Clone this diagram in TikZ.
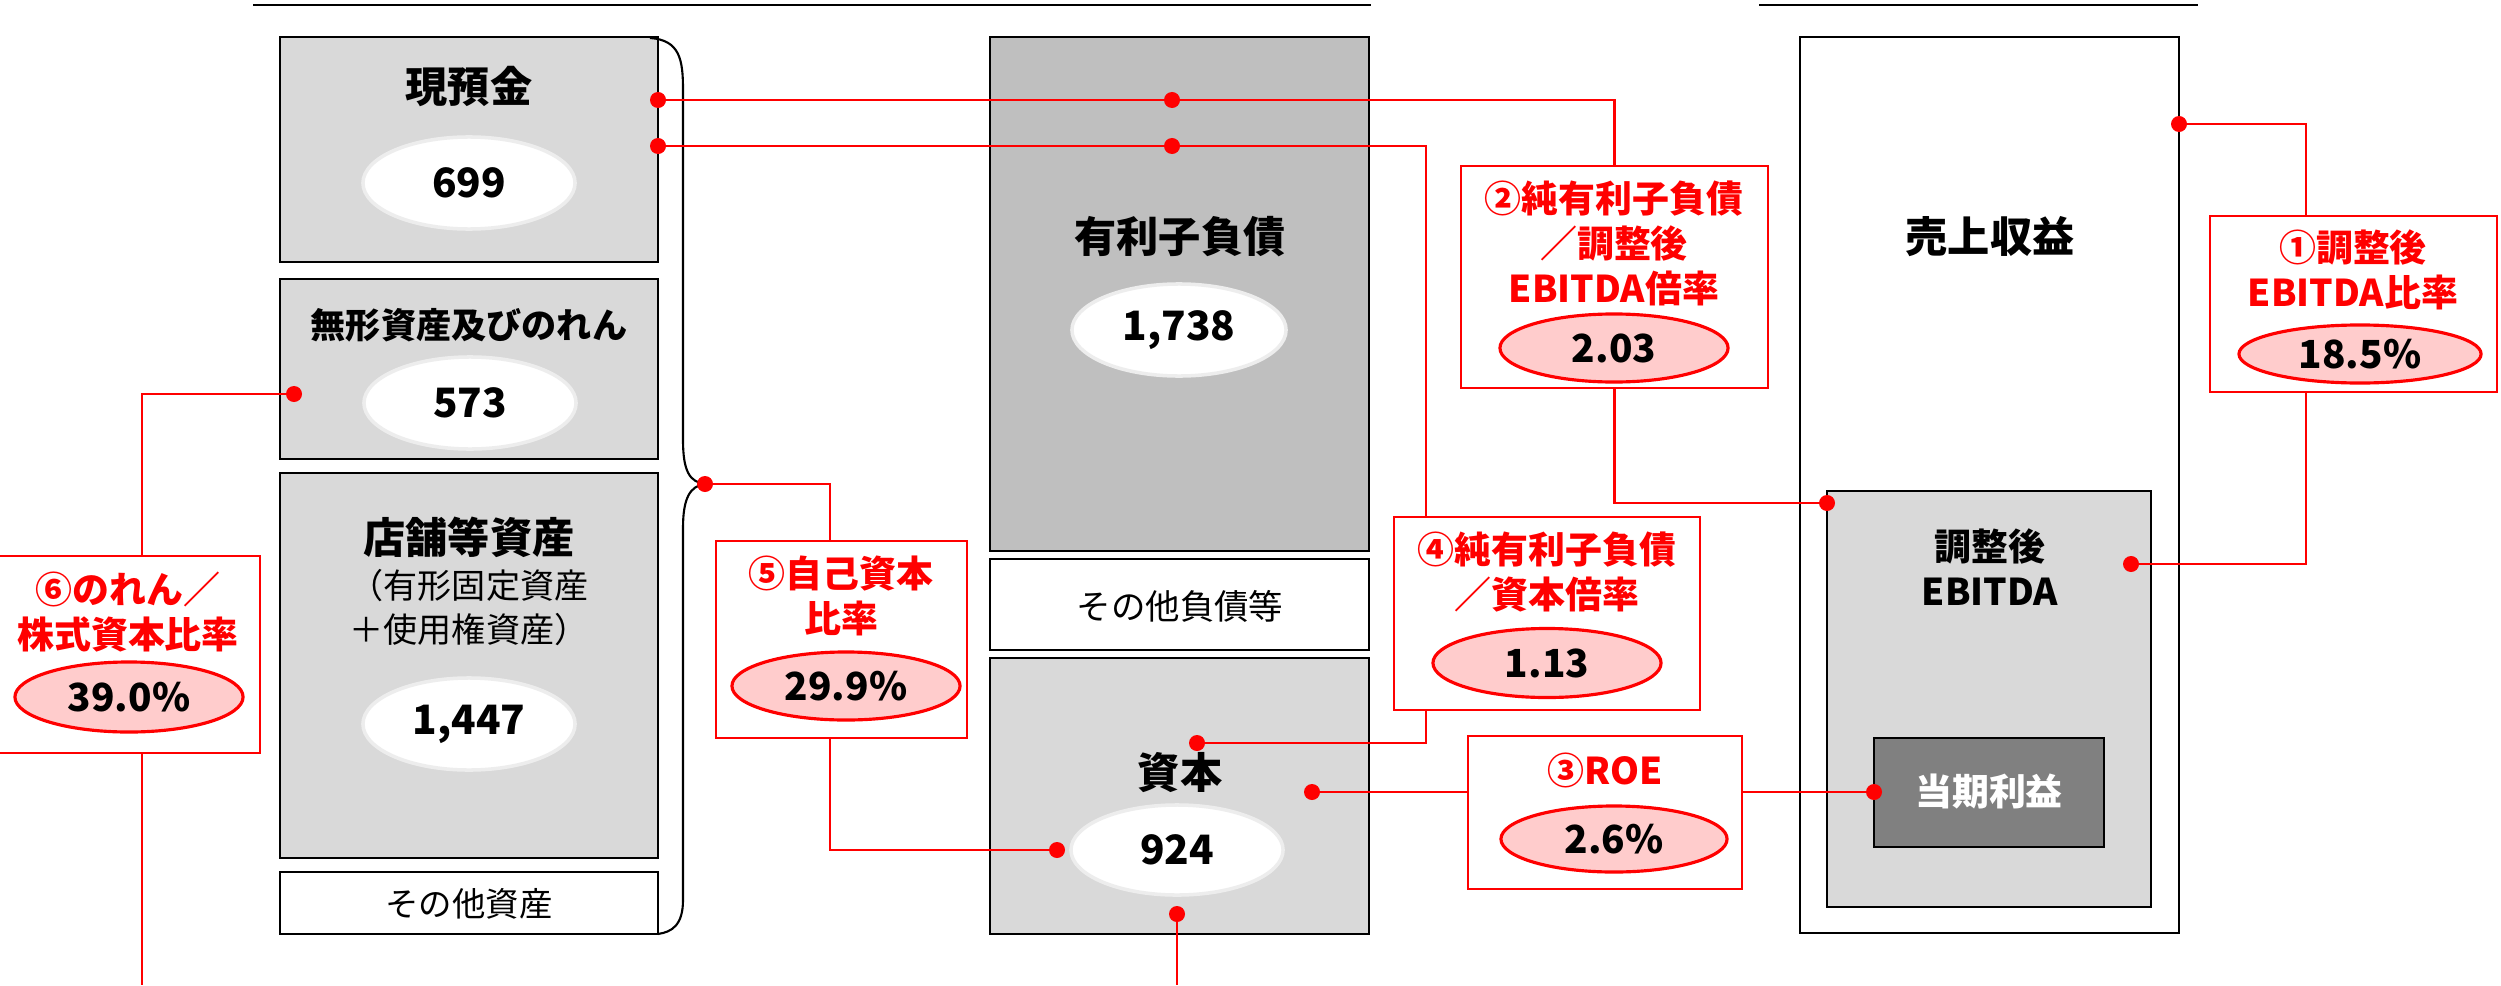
\documentclass[tikz,border=0pt]{standalone}
\usepackage{fontspec}
\setmainfont{Noto Sans CJK JP}
\usetikzlibrary{shapes.geometric,fit}
\definecolor{lg}{HTML}{D9D9D9}
\definecolor{mg}{HTML}{BFBFBF}
\definecolor{dg}{HTML}{808080}
\definecolor{pk}{HTML}{FFCCCC}
\definecolor{rr}{HTML}{FF0000}
\begin{document}
\begin{tikzpicture}[x=0.01cm,y=-0.01cm,
  gbox/.style={draw=black,line width=0.8pt,fill=lg,inner sep=0pt},
  wbox/.style={draw=black,line width=0.8pt,fill=white,inner sep=0pt},
  rbox/.style={draw=rr,line width=0.8pt,fill=white,inner sep=0pt},
  wov/.style={ellipse,fill=white,draw=black!7,line width=1pt,inner sep=0pt,font=\bfseries\fontsize{11.5}{13}\selectfont},
  rov/.style={ellipse,fill=pk,draw=rr,line width=0.9pt,inner sep=0pt,font=\bfseries\fontsize{11}{12}\selectfont},
  rdot/.style={circle,fill=rr,inner sep=0pt,minimum size=0.16cm},
  rl/.style={draw=rr,line width=0.7pt},
  big/.style={font=\bfseries\fontsize{12}{14}\selectfont},
  mid/.style={font=\bfseries\fontsize{10.5}{12.8}\selectfont,align=center},
  reg/.style={font=\fontsize{9.7}{12.5}\selectfont,align=center},
  lab/.style={font=\bfseries\fontsize{10.5}{12.8}\selectfont,align=center,text=rr}]
\useasboundingbox (0,0) rectangle (2501,985);
% top rules
\draw[line width=0.5pt] (253,5) -- (1371,5);
\draw[line width=0.5pt] (1759,5) -- (2198,5);
% assets
\node[gbox,fit={(280,37)(658,262)}] (cash) {};
\node[big] (tcash) at (469,87) {現預金};
\node[wov,minimum width=2.12cm,minimum height=0.92cm] (vcash) at (469,183) {699};
\node[gbox,fit={(280,279)(658,459)}] (intg) {};
\node[font=\bfseries\fontsize{10}{12}\selectfont] (tintg) at (469,325) {無形資産及びのれん};
\node[wov,minimum width=2.12cm,minimum height=0.92cm] (vintg) at (470,403) {573};
\node[gbox,fit={(280,473)(658,858)}] (store) {};
\node[big] (tstore) at (469,537) {店舗等資産};
\node[reg] (tstore2) at (469,608) {（有形固定資産\\＋使用権資産）};
\node[wov,minimum width=2.12cm,minimum height=0.92cm] (vstore) at (469,724) {1,447};
\node[wbox,fit={(280,872)(658,934)}] (oth) {};
\node[font=\fontsize{9.5}{12}\selectfont] (toth) at (469,904) {その他資産};
% brace
\draw[line width=0.6pt] (650,38) .. controls (680,40) and (683,60) .. (683,90) -- (683,440) .. controls (683,472) and (690,482) .. (705,484) .. controls (690,486) and (683,498) .. (683,528) -- (683,900) .. controls (683,925) and (672,932) .. (658,934);
% liabilities
\node[fill=mg,draw=black,line width=0.8pt,inner sep=0pt,fit={(990,37)(1369,551)}] (debt) {};
\node[big] (tdebt) at (1180,237) {有利子負債};
\node[wov,minimum width=2.14cm,minimum height=0.92cm] (vdebt) at (1179,330) {1,738};
\node[wbox,fit={(990,559)(1369,650)}] (othl) {};
\node[font=\fontsize{9.8}{12}\selectfont] (tothl) at (1180,606) {その他負債等};
\node[gbox,fit={(990,658)(1369,934)}] (eq) {};
\node[big] (teq) at (1180,773) {資本};
\node[wov,minimum width=2.12cm,minimum height=0.9cm] (veq) at (1177,850) {924};
% P/L
\node[wbox,fit={(1800,37)(2179,933)}] (rev) {};
\node[big] (trev) at (1990,237) {売上収益};
\node[gbox,fit={(1827,491)(2151,907)}] (ebitda) {};
\node[mid] (tebitda) at (1990,567) {調整後\\EBITDA};
\node[fill=dg,draw=black,line width=0.8pt,inner sep=0pt,fit={(1874,738)(2104,847)}] (ni) {};
\node[font=\bfseries\fontsize{10.5}{12}\selectfont,text=white] (tni) at (1989,792) {当期利益};
% ratio boxes
\node[rbox,fit={(2210,216)(2497,392)}] (r1) {};
\node[lab] (t1) at (2353,270) {①調整後\\EBITDA比率};
\node[rov,minimum width=2.42cm,minimum height=0.58cm] (v1) at (2360,354) {18.5\%};
\node[rbox,fit={(1461,166)(1768,388)}] (r2) {};
\node[lab] (t2) at (1614,243) {②純有利子負債\\／調整後\\EBITDA倍率};
\node[rov,minimum width=2.28cm,minimum height=0.68cm] (v2) at (1614,348) {2.03};
\node[rbox,fit={(1468,736)(1742,889)}] (r3) {};
\node[lab] (t3) at (1605,770) {③ROE};
\node[rov,minimum width=2.26cm,minimum height=0.66cm] (v3) at (1614,839) {2.6\%};
\node[rbox,fit={(1394,517)(1700,710)}] (r4) {};
\node[lab] (t4) at (1547,572) {④純有利子負債\\／資本倍率};
\node[rov,minimum width=2.28cm,minimum height=0.69cm] (v4) at (1547,663) {1.13};
\node[rbox,fit={(716,541)(967,738)}] (r5) {};
\node[lab] (t5) at (841,596) {⑤自己資本\\比率};
\node[rov,minimum width=2.28cm,minimum height=0.68cm] (v5) at (846,686) {29.9\%};
\node[rbox,fit={(-3,556)(260,753)}] (r6) {};
\node[lab] (t6) at (128,612) {⑥のれん／\\株式資本比率};
\node[rov,minimum width=2.28cm,minimum height=0.7cm] (v6) at (129,697) {39.0\%};
% connector points
\node[rdot] (dA) at (658,100) {};
\node[rdot] (dB) at (1172,100) {};
\node[rdot] (dC) at (658,146) {};
\node[rdot] (dD) at (1172,146) {};
\node[rdot] (dE) at (1827,503) {};
\node[rdot] (dF) at (1197,743) {};
\node[rdot] (dG) at (1312,792) {};
\node[rdot] (dH) at (1874,792) {};
\node[rdot] (dI) at (2179,124) {};
\node[rdot] (dJ) at (2131,564) {};
\node[rdot] (dK) at (705,484) {};
\node[rdot] (dL) at (1057,850) {};
\node[rdot] (dM) at (294,394) {};
\node[rdot] (dN) at (1177,914) {};
\coordinate (r1in) at (2306,216);
\coordinate (r1out) at (2306,392);
\coordinate (r4in) at (1426,517);
\coordinate (r4out) at (1426,710);
\coordinate (r5in) at (830,541);
\coordinate (r5out) at (830,738);
\coordinate (r6in) at (142,556);
\coordinate (r6out) at (142,753);
\coordinate (e6) at (142,985);
\coordinate (eN) at (1177,985);
% connectors
\draw[rl] (dA.center) -- (dB.center) -| (r2.north);
\draw[rl] (r2.south) |- (dE.center);
\draw[rl] (dC.center) -- (dD.center) -| (r4in);
\draw[rl] (r4out) |- (dF.center);
\draw[rl] (dG.center) -- (dG -| r3.west);
\draw[rl] (r3.east |- dH) -- (dH.center);
\draw[rl] (dI.center) -| (r1in);
\draw[rl] (r1out) |- (dJ.center);
\draw[rl] (dK.center) -| (r5in);
\draw[rl] (r5out) |- (dL.center);
\draw[rl] (dM.center) -| (r6in);
\draw[rl] (r6out) -- (e6);
\draw[rl] (dN.center) -- (eN);
\end{tikzpicture}
\end{document}
